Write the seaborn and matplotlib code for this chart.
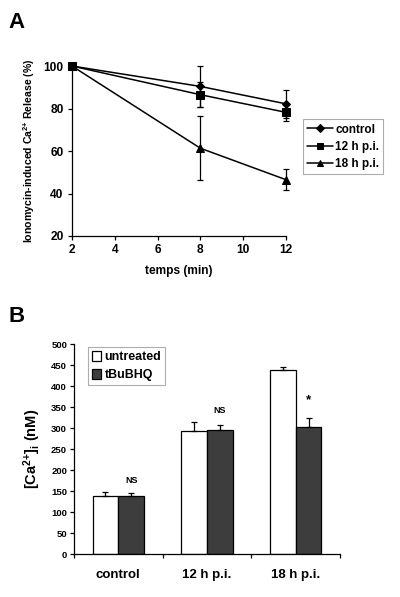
import numpy as np
import pandas as pd
import matplotlib
matplotlib.use("Agg")
import matplotlib.pyplot as plt
import seaborn as sns

# ---- Panel A data: release over time ----
times = [2, 8, 12]
series_a = ["control", "12 h p.i.", "18 h p.i."]
control_vals = [100, 90.4, 82.2]
control_err = [0, 9.6, 6.5]
pi12_vals = [100, 86.5, 78.2]
pi12_err = [0, 6.0, 4.0]
pi18_vals = [100, 61.3, 46.5]
pi18_err = [0, 15.0, 5.0]

# ---- Panel B data: [Ca2+]i ----
groups = ["control", "12 h p.i.", "18 h p.i."]
treatments = ["untreated", "tBuBHQ"]
untreated_vals = [138, 294, 438]
untreated_err = [9, 20, 9]
tbubhq_vals = [138, 295, 303]
tbubhq_err = [7, 13, 21]
annot_text = ["NS", "NS", "*"]
annot_y = [176, 343, 367]

sns.set_style("ticks")
plt.rcParams["font.family"] = ["Liberation Sans", "DejaVu Sans"]
plt.rcParams["font.weight"] = "bold"
plt.rcParams["axes.labelweight"] = "bold"
plt.rcParams["mathtext.fontset"] = "custom"
plt.rcParams["mathtext.rm"] = "Liberation Sans:bold"
plt.rcParams["mathtext.it"] = "Liberation Sans:bold"
plt.rcParams["mathtext.bf"] = "Liberation Sans:bold"
for k in ["text.color", "axes.labelcolor", "xtick.color", "ytick.color", "axes.edgecolor"]:
    plt.rcParams[k] = "black"

fig = plt.figure(figsize=(4, 5.97), dpi=100)

# ---- Panel A ----
ax1 = fig.add_axes([0.18, 0.6047, 0.535, 0.2847])
df_a = pd.DataFrame({
    "time": times * 3,
    "value": control_vals + pi12_vals + pi18_vals,
    "err": control_err + pi12_err + pi18_err,
    "series": np.repeat(series_a, len(times)),
})
sns.lineplot(data=df_a, x="time", y="value", hue="series", style="series",
             markers=["D", "s", "^"], dashes=False,
             palette=["black"] * 3, markersize=5, linewidth=1.1,
             markeredgecolor="black", ax=ax1, legend=True)
for line, ms in zip(ax1.lines, [4.2, 5.5, 6]):
    line.set_markersize(ms)
    line.set_clip_on(False)
eb = ax1.errorbar(df_a["time"], df_a["value"], yerr=df_a["err"], fmt="none",
                  ecolor="black", elinewidth=0.9, capsize=2.5, capthick=0.9)
for art in eb.get_children():
    art.set_clip_on(False)
ax1.set_xlim(2, 12)
ax1.set_ylim(20, 100)
ax1.set_xticks([2, 4, 6, 8, 10, 12])
ax1.set_yticks([20, 40, 60, 80, 100])
ax1.tick_params(labelsize=8.6, length=3, width=0.9, pad=3)
ax1.set_xlabel("temps (min)", fontsize=8.6, labelpad=6)
ax1.set_ylabel("Ionomycin-induced Ca$^{2{+}}$ Release (%)", fontsize=7.6, labelpad=5)
sns.despine(ax=ax1)
for s in ["left", "bottom"]:
    ax1.spines[s].set_linewidth(0.9)

handles, labels = ax1.get_legend_handles_labels()
ax1.legend_.remove()
leg1 = fig.legend(handles, labels, loc="upper left",
                  bbox_to_anchor=(0.757, 0.80), bbox_transform=fig.transFigure,
                  fontsize=8.5, frameon=True, fancybox=False, edgecolor="#999999",
                  handlelength=2.2, handletextpad=0.2, borderpad=0.35,
                  labelspacing=0.45, borderaxespad=0, markerscale=0.8)
leg1.get_frame().set_linewidth(0.8)

fig.text(0.02, 0.945, "A", fontsize=16, fontweight="bold", va="bottom")

# ---- Panel B ----
ax2 = fig.add_axes([0.185, 0.072, 0.665, 0.3513])
df_b = pd.DataFrame({
    "group": groups * 2,
    "treatment": np.repeat(treatments, len(groups)),
    "value": untreated_vals + tbubhq_vals,
})
sns.barplot(data=df_b, x="group", y="value", hue="treatment",
            palette=["white", "#3d3d3d"], edgecolor="black", linewidth=0.9,
            width=0.58, gap=0, errorbar=None, ax=ax2, legend=True)

errs = untreated_err + tbubhq_err
bars = ax2.patches[:len(df_b)]
xs = [b.get_x() + b.get_width() / 2 for b in bars]
tops = [b.get_height() for b in bars]
ax2.errorbar(xs, tops, yerr=[np.zeros(len(errs)), errs], fmt="none",
             ecolor="black", elinewidth=0.9, capsize=2.5, capthick=0.9)
for i, txt in enumerate(annot_text):
    ax2.text(xs[len(groups) + i], annot_y[i], txt, ha="center", va="center",
             fontsize=6.5 if txt == "NS" else 9.5, fontweight="bold")

ax2.set_xlim(-0.5, 2.5)
ax2.set_ylim(0, 500)
ax2.set_yticks(range(0, 501, 50))
ax2.set_xticks([-0.5, 0.5, 1.5, 2.5], minor=False)
ax2.set_xticklabels([])
ax2.set_xticks([0, 1, 2], minor=True)
ax2.set_xticklabels(groups, minor=True)
ax2.tick_params(axis="x", which="minor", length=0, labelsize=9.5, pad=11)
ax2.tick_params(axis="x", which="major", length=3, width=0.9)
ax2.tick_params(axis="y", labelsize=6.8, length=3, width=0.9, pad=2)
ax2.set_xlabel("")
ax2.set_ylabel("[Ca$^{2{+}}$]$_{i}$ (nM)", fontsize=10.5, labelpad=6)
sns.despine(ax=ax2)
for s in ["left", "bottom"]:
    ax2.spines[s].set_linewidth(0.9)

h2, l2 = ax2.get_legend_handles_labels()
ax2.legend_.remove()
leg2 = fig.legend(h2, l2, loc="upper left",
                  bbox_to_anchor=(0.22, 0.418), bbox_transform=fig.transFigure,
                  fontsize=8.9, frameon=True, fancybox=False, edgecolor="#999999",
                  handlelength=0.75, handleheight=0.85, handletextpad=0.3,
                  borderpad=0.3, labelspacing=0.45, borderaxespad=0)
leg2.get_frame().set_linewidth(0.8)

fig.text(0.02, 0.452, "B", fontsize=16, fontweight="bold", va="bottom")

fig.savefig("out.png", dpi=100)
